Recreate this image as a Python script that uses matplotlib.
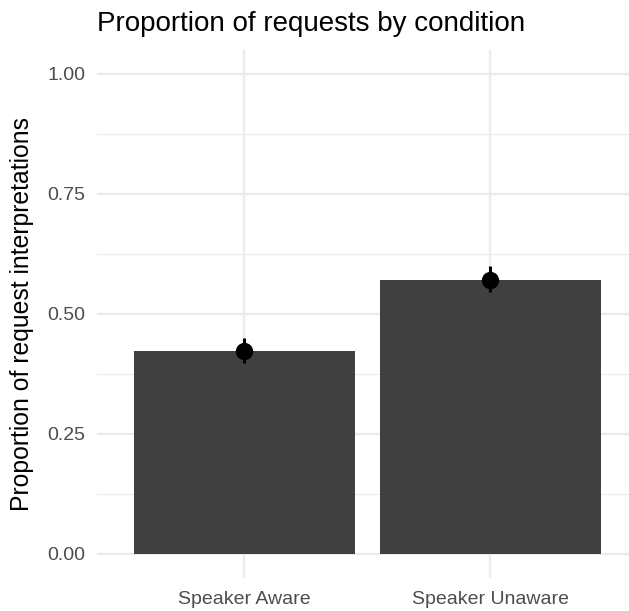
import numpy as np
import matplotlib
matplotlib.use("Agg")
import matplotlib.pyplot as plt
from matplotlib.ticker import MultipleLocator

conditions = ["Speaker Aware", "Speaker Unaware"]
prop_request = [0.422, 0.571]
ci_low = [0.397, 0.545]
ci_high = [0.451, 0.599]

plt.rcParams["font.family"] = ["Liberation Sans", "DejaVu Sans"]

W, H = 629, 611
fig = plt.figure(figsize=(W / 100, H / 100), dpi=100)
ax = fig.add_axes([97 / W, 1 - 578 / H, 1 - 97 / W, (578 - 50) / H])

x = np.arange(1, len(conditions) + 1)
y = np.array(prop_request)
yerr = [y - np.array(ci_low), np.array(ci_high) - y]

ax.bar(x, y, width=0.9, color="#404040", zorder=2)
ax.errorbar(x, y, yerr=yerr, fmt="o", color="black", markersize=11.5,
            elinewidth=2.2, capsize=0, zorder=3)

ax.set_xlim(0.4, 2.565)
ax.set_ylim(-0.05, 1.05)
ax.set_xticks(x)
ax.set_xticklabels(conditions)
ax.yaxis.set_major_locator(MultipleLocator(0.25))
ax.yaxis.set_minor_locator(MultipleLocator(0.125))
ax.yaxis.set_major_formatter(lambda v, pos: f"{v:.2f}")

# theme_minimal look: no spines, no ticks, light grid
for s in ax.spines.values():
    s.set_visible(False)
ax.tick_params(axis="both", which="both", length=0, labelsize=14,
               labelcolor="#4D4D4D")
ax.tick_params(axis="y", pad=8.5)
ax.tick_params(axis="x", pad=9.5)
ax.grid(which="major", color="#EBEBEB", linewidth=1.6, zorder=0)
ax.grid(which="minor", axis="y", color="#EBEBEB", linewidth=0.8, zorder=0)
ax.set_axisbelow(True)

ax.set_title("Proportion of requests by condition", loc="left",
             fontsize=20, pad=14, color="black")
ax.set_ylabel("Proportion of request interpretations", fontsize=17.8,
              color="black")
ax.yaxis.label.set_va("center")
ax.yaxis.set_label_coords(-(97 - 22) / (W - 97), 0.5)

fig.savefig("out.png", dpi=100)
